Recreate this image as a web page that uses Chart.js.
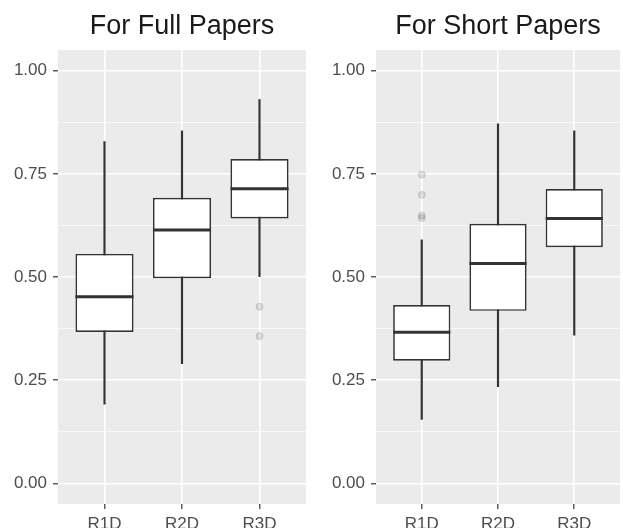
<!DOCTYPE html>
<html>
<head>
<meta charset="utf-8">
<script src="https://cdn.jsdelivr.net/npm/chart.js@4.4.1/dist/chart.umd.min.js"></script>
<style>
    html, body { margin: 0; padding: 0; background: #fff; overflow: hidden; }
    canvas { position: absolute; top: 0; }
    #fullChart { left: 0; }
    #shortChart { left: 312px; }
</style>
</head>
<body>
<canvas id="fullChart" width="311" height="545"></canvas>
<canvas id="shortChart" width="313" height="545"></canvas>
<script>
// Boxplot data
const categories = ['R1D', 'R2D', 'R3D'];
const yMajorTicks = [0, 0.25, 0.5, 0.75, 1];
const yMinorTicks = [0.125, 0.375, 0.625, 0.875];

// For Full Papers
const fullMin = [0.192, 0.290, 0.501];
const fullQ1 = [0.367, 0.497, 0.642];
const fullMedian = [0.452, 0.614, 0.714];
const fullQ3 = [0.556, 0.692, 0.786];
const fullMax = [0.828, 0.854, 0.930];
const fullOutliers = [[], [], [0.428, 0.357]];

// For Short Papers
const shortMin = [0.155, 0.234, 0.359];
const shortQ1 = [0.297, 0.418, 0.572];
const shortMedian = [0.366, 0.533, 0.642];
const shortQ3 = [0.432, 0.629, 0.713];
const shortMax = [0.590, 0.871, 0.854];
const shortOutliers = [[0.748, 0.699, 0.649, 0.643], [], []];

const BOX_WIDTH = 0.75;
const LINE_COLOR = '#333333';
const TEXT_COLOR = '#4d4d4d';
const FONT_FAMILY = '"Liberation Sans", Arial, sans-serif';

// grey panel + centred panel title
const panelPlugin = {
    id: 'panelPlugin',
    beforeDraw: function(chart, args, opts) {
        const {ctx, chartArea} = chart;
        ctx.save();
        ctx.fillStyle = '#ebebeb';
        ctx.fillRect(chartArea.left, chartArea.top, chartArea.width, chartArea.height);
        ctx.fillStyle = '#1a1a1a';
        ctx.font = '27px ' + FONT_FAMILY;
        ctx.textAlign = 'center';
        ctx.textBaseline = 'alphabetic';
        ctx.fillText(opts.text, (chartArea.left + chartArea.right) / 2, 34);
        ctx.restore();
    }
};

function makePanel(canvasId, title, mins, q1s, medians, q3s, maxs, outliers, axisWidth, padRight) {
    const allTicks = yMajorTicks.concat(yMinorTicks).sort((a, b) => a - b);
    const isMajor = v => yMajorTicks.includes(v);

    const outlierPoints = [];
    outliers.forEach((list, i) => {
        list.forEach(v => outlierPoints.push({x: i + 1, y: v}));
    });

    return new Chart(document.getElementById(canvasId), {
        type: 'bar',
        data: {
            datasets: [
                {
                    // medians
                    type: 'scatter',
                    data: medians.map((m, i) => ({x: i + 1, y: m})),
                    pointStyle: 'line',
                    pointRadius: function(ctx) {
                        const s = ctx.chart.scales.x;
                        return Math.abs(s.getPixelForValue(1 + BOX_WIDTH / 2) - s.getPixelForValue(1));
                    },
                    pointBorderWidth: 3,
                    pointBorderColor: LINE_COLOR,
                    order: 0
                },
                {
                    // boxes (Q1..Q3)
                    data: q1s.map((q, i) => ({x: i + 1, y: [q, q3s[i]]})),
                    backgroundColor: '#ffffff',
                    borderColor: LINE_COLOR,
                    borderWidth: 1.7,
                    borderSkipped: false,
                    barPercentage: BOX_WIDTH,
                    categoryPercentage: 1,
                    order: 1
                },
                {
                    // whiskers
                    data: mins.map((m, i) => ({x: i + 1, y: [m, maxs[i]]})),
                    backgroundColor: LINE_COLOR,
                    barThickness: 1.5,
                    order: 2
                },
                {
                    // outliers
                    type: 'scatter',
                    data: outlierPoints,
                    pointRadius: 3.5,
                    pointBackgroundColor: 'rgba(0, 0, 0, 0.10)',
                    pointBorderColor: 'rgba(0, 0, 0, 0.12)',
                    pointBorderWidth: 1,
                    order: 3
                }
            ]
        },
        options: {
            responsive: false,
            animation: false,
            grouped: false,
            layout: {
                padding: {left: 0, top: 50, right: padRight, bottom: 0}
            },
            plugins: {
                legend: {display: false},
                tooltip: {enabled: false},
                panelPlugin: {text: title}
            },
            scales: {
                x: {
                    type: 'linear',
                    min: 0.4,
                    max: 3.6,
                    offset: false,
                    afterBuildTicks: function(scale) {
                        scale.ticks = categories.map((c, i) => ({value: i + 1}));
                    },
                    afterFit: function(scale) {
                        scale.height = 41;
                    },
                    ticks: {
                        callback: v => categories[v - 1],
                        autoSkip: false,
                        maxRotation: 0,
                        padding: 5,
                        color: TEXT_COLOR,
                        font: {family: FONT_FAMILY, size: 17}
                    },
                    grid: {
                        offset: false,
                        color: '#ffffff',
                        lineWidth: 1.6,
                        tickColor: LINE_COLOR,
                        tickLength: 5,
                        tickWidth: 1.2
                    },
                    border: {display: false}
                },
                y: {
                    min: -0.05,
                    max: 1.05,
                    afterBuildTicks: function(scale) {
                        scale.ticks = allTicks.map(v => ({value: v}));
                    },
                    afterFit: function(scale) {
                        scale.width = axisWidth;
                    },
                    ticks: {
                        callback: v => isMajor(v) ? v.toFixed(2) : '',
                        autoSkip: false,
                        padding: 6,
                        color: TEXT_COLOR,
                        font: {family: FONT_FAMILY, size: 17}
                    },
                    grid: {
                        color: ctx => isMajor(ctx.tick.value) ? '#ffffff' : 'rgba(255, 255, 255, 0.85)',
                        lineWidth: ctx => isMajor(ctx.tick.value) ? 1.6 : 0.8,
                        tickColor: ctx => isMajor(ctx.tick.value) ? LINE_COLOR : 'rgba(0, 0, 0, 0)',
                        tickLength: 5,
                        tickWidth: 1.2
                    },
                    border: {display: false}
                }
            }
        },
        plugins: [panelPlugin]
    });
}

document.addEventListener('DOMContentLoaded', function() {
    makePanel('fullChart', 'For Full Papers', fullMin, fullQ1, fullMedian, fullQ3, fullMax, fullOutliers, 58, 4);
    makePanel('shortChart', 'For Short Papers', shortMin, shortQ1, shortMedian, shortQ3, shortMax, shortOutliers, 64, 0);
});
</script>
</body>
</html>
